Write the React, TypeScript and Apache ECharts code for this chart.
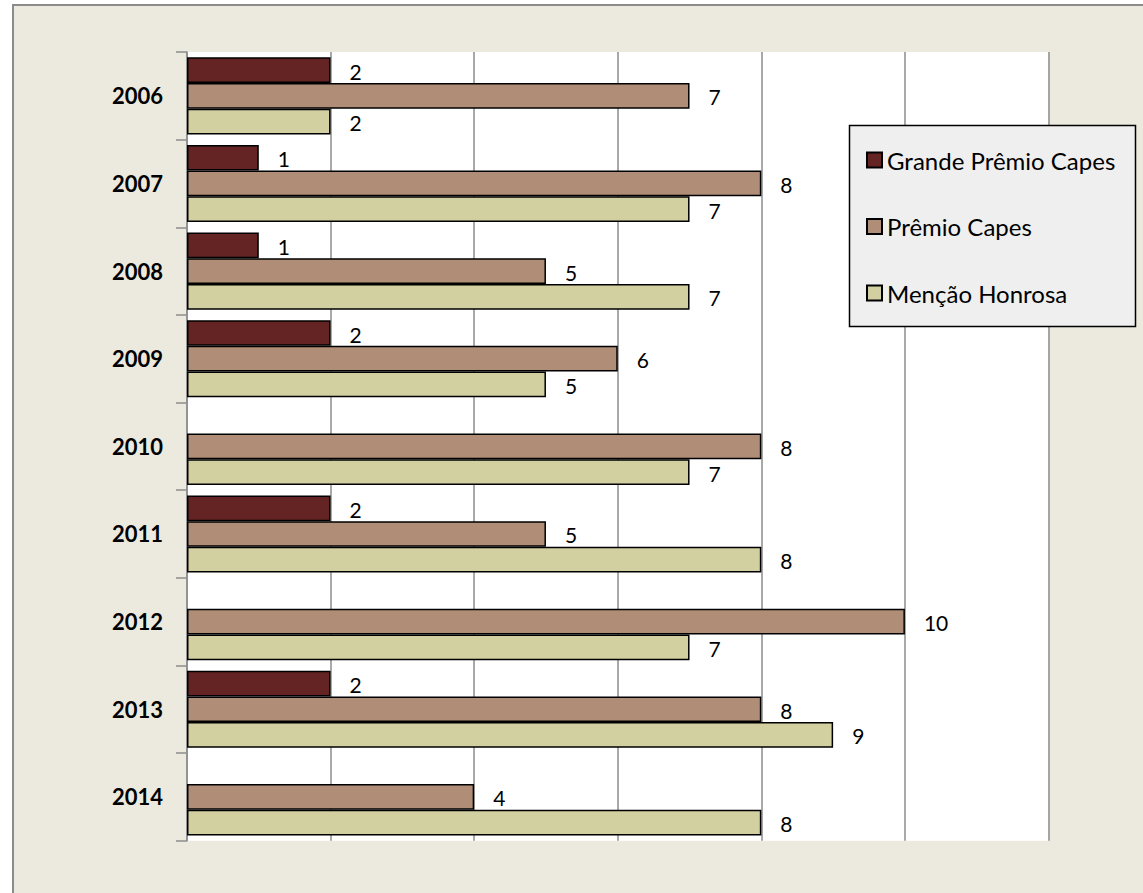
import React, { useEffect, useRef } from "react";
import * as echarts from "echarts";

const years = ["2006", "2007", "2008", "2009", "2010", "2011", "2012", "2013", "2014"];
const seriesNames = ["Grande Prêmio Capes", "Prêmio Capes", "Menção Honrosa"];
const grandePremio = [2, 1, 1, 2, 0, 2, 0, 2, 0];
const premio = [7, 8, 5, 6, 8, 5, 10, 8, 4];
const mencao = [2, 7, 7, 5, 7, 8, 7, 9, 8];
const colors = ["#632423", "#B08D77", "#D2CFA0"];

const FONT = "Lato, 'Open Sans', sans-serif";

export default function App() {
  const ref = useRef<HTMLDivElement>(null);

  useEffect(() => {
    if (!ref.current) return;
    const chart = echarts.init(ref.current, undefined, { renderer: "svg" });
    const values = [grandePremio, premio, mencao];
    const series = values.map((arr, i) => ({
      name: seriesNames[i],
      type: "bar",
      barGap: "0%",
      barCategoryGap: "12%",
      data: arr.map((v) => (v === 0 ? { value: v, itemStyle: { borderWidth: 0 } } : v)),
      itemStyle: { color: colors[i], borderColor: "#000", borderWidth: 1.5 },
      label: {
        show: true,
        position: "right",
        distance: 19,
        offset: [0, 1],
        color: "#000",
        fontFamily: FONT,
        fontSize: 21,
        formatter: (p: any) => (p.value === 0 ? "" : String(p.value)),
      },
    }));

    chart.setOption({
      animation: false,
      backgroundColor: "transparent",
      grid: {
        left: 187,
        top: 52,
        right: 94.5,
        bottom: 52.3,
        show: true,
        backgroundColor: "#ffffff",
        borderWidth: 0,
      },
      xAxis: {
        type: "value",
        min: 0,
        max: 12,
        interval: 2,
        axisLabel: { show: false },
        axisLine: { show: false },
        axisTick: { show: false },
        splitLine: { show: true, lineStyle: { color: "#8c8c8c", width: 1.5 } },
      },
      yAxis: {
        type: "category",
        inverse: true,
        data: years,
        axisLine: { show: true, lineStyle: { color: "#8c8c8c", width: 1.5 } },
        axisTick: { show: true, length: 11, lineStyle: { color: "#8c8c8c", width: 1.5 } },
        axisLabel: {
          color: "#000",
          fontFamily: FONT,
          fontWeight: "bold",
          fontSize: 22,
          margin: 24,
        },
      },
      legend: {
        orient: "vertical",
        left: 866,
        top: 148,
        padding: 0,
        itemWidth: 15,
        itemHeight: 15,
        itemGap: 42.5,
        icon: "rect",
        data: seriesNames,
        textStyle: { color: "#000", fontFamily: FONT, fontSize: 24, lineHeight: 24 },
        z: 10,
      },
      graphic: [
        {
          type: "rect",
          z: 5,
          shape: { x: 849.5, y: 125.5, width: 286, height: 201 },
          style: { fill: "#EFEFEF", stroke: "#000", lineWidth: 1.5 },
        },
      ],
      series,
    });
    return () => chart.dispose();
  }, []);

  return (
    <div
      style={{
        position: "absolute",
        left: 0,
        top: 0,
        width: 1143,
        height: 893,
        background: "#ffffff",
        overflow: "hidden",
      }}
    >
      <div
        style={{
          position: "absolute",
          left: 12,
          top: 4,
          width: 1300,
          height: 1000,
          background: "#ECE9DF",
          borderTop: "2px solid #8c8c8c",
          borderLeft: "2px solid #8c8c8c",
        }}
      />
      <div ref={ref} style={{ position: "absolute", left: 0, top: 0, width: 1143, height: 893 }} />
    </div>
  );
}
